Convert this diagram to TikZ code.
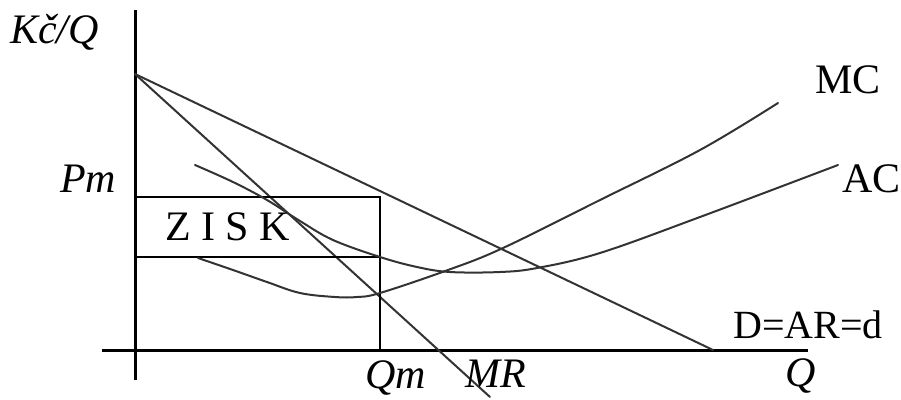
\documentclass[tikz,border=0pt]{standalone}
\usepackage{fontspec}
\setmainfont{Liberation Serif}
\begin{document}
\begin{tikzpicture}[x=1pt,y=-1pt,
  axis/.style={line width=3pt},
  box/.style={line width=2.2pt},
  curve/.style={line width=2pt, black!80, line cap=round},
  lbl/.style={inner sep=0pt, anchor=base west, font=\fontsize{42}{50}\selectfont},
  ilbl/.style={inner sep=0pt, anchor=base west, font=\fontsize{42}{50}\selectfont\itshape}]
\useasboundingbox (0,0) rectangle (901,399);
% axes
\coordinate (ytop) at (135,10);
\coordinate (ybot) at (135,380);
\coordinate (xl) at (102,350);
\coordinate (xr) at (808,350);
\draw[axis] (ytop) -- (ybot);
\draw[axis] (xl) -- (xr);
% demand and marginal revenue
\coordinate (P0) at (135,74);
\coordinate (Dend) at (713,350);
\coordinate (MRend) at (490,397);
\draw[curve] (P0) -- (Dend);
\draw[curve] (P0) -- (MRend);
% profit rectangle
\coordinate (Pm) at (135,197);
\coordinate (Pmr) at (380,197);
\coordinate (Qm) at (380,350);
\coordinate (ACl) at (135,257);
\coordinate (ACr) at (380,257);
\draw[box] (Pm) -- (Pmr) -- (Qm);
\draw[box] (ACl) -- (ACr);
% MC
\draw[curve] plot[smooth, tension=0.6] coordinates {(198,258) (233,270) (267,282) (300,293) (335,297) (357,297) (380,293) (448,270) (503,248) (600,200) (700,150) (778,103)};
% AC
\draw[curve] plot[smooth, tension=0.6] coordinates {(195,165) (233,182) (267,200) (300,221) (333,240) (380,257) (417,267) (450,272) (500,272) (537,268) (600,253) (700,217) (838,165)};
% labels
\node[ilbl] (kcq) at (10,43) {Kč/Q};
\node[ilbl] (pm) at (60,192) {Pm};
\node[lbl] (zisk) at (165,240) {Z I S K};
\node[ilbl] (qm) at (365,388) {Qm};
\node[ilbl] (mr) at (465,387) {MR};
\node[ilbl] (q) at (785,386) {Q};
\node[lbl] (mc) at (815,93) {MC};
\node[lbl] (ac) at (842,192) {AC};
\node[lbl, font=\fontsize{40}{48}\selectfont] (d) at (733,338) {D=AR=d};
\end{tikzpicture}
\end{document}
